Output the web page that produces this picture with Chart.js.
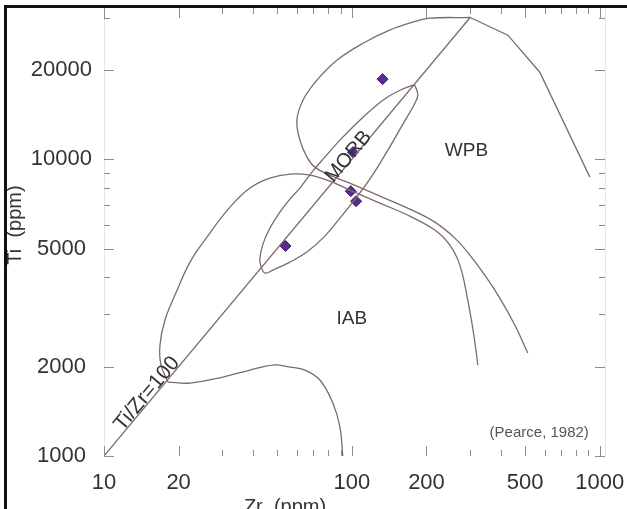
<!DOCTYPE html>
<html>
<head>
<meta charset="utf-8">
<script src="https://cdn.jsdelivr.net/npm/chart.js@4.4.0/dist/chart.umd.min.js"></script>
<style>
  html, body { margin: 0; padding: 0; background: #fff; }
  #wrap { width: 627px; height: 509px; }
</style>
</head>
<body>
<div id="wrap"><canvas id="chart" width="627" height="509"></canvas></div>
<script>
// axis ticks
const xTicks = [10, 20, 100, 200, 500, 1000];
const yTicks = [1000, 2000, 5000, 10000, 20000];

// samples (Zr ppm, Ti ppm)
const sampleZr = [133, 101, 99, 104, 54];
const sampleTi = [18600, 10560, 7800, 7220, 5100];

// Ti/Zr = 100 line
const ratioZr = [10, 300];
const ratioTi = [1000, 30000];

// WPB field: straight right edge up to the apex
const wpbEdgeZr = [912, 573, 426, 300];
const wpbEdgeTi = [8700, 19630, 26160, 30000];

// WPB field: from apex round the left side, then down to the right
const wpbZr = [300, 206, 176, 142, 111, 87, 72.3, 63.5, 60.0, 61.7, 65.9, 70.9, 81.5, 98.1, 129.7, 171.3, 216.1, 260.3, 299.1, 343.8, 395.3, 454.3, 512.5];
const wpbTi = [30000, 29840, 28930, 27190, 24580, 21540, 18450, 15800, 13530, 11590, 10160, 9400, 8835, 8300, 7507, 6785, 6135, 5420, 4752, 4069, 3404, 2761, 2222];

// IAB field, upper boundary
const iabTopZr = [18.12, 16.98, 16.82, 17.62, 19.34, 22.23, 26.02, 32.22, 38.79, 46.71, 56.23, 67.7, 81.5, 98.1, 129.7, 171.3, 216.1, 248.5, 272.6, 293.5, 310.4, 322.2];
const iabTopTi = [1775, 2025, 2364, 2871, 3484, 4500, 5463, 6891, 7990, 8630, 8900, 8835, 8430, 7865, 7110, 6428, 5768, 5133, 4397, 3352, 2556, 2025];

// IAB field, lower boundary
const iabBaseZr = [18.12, 22.23, 30.19, 38.79, 48.03, 56.23, 64.65, 74.3, 83.8, 89.5, 91.9];
const iabBaseTi = [1775, 1761, 1845, 1948, 2025, 1994, 1948, 1803, 1508, 1252, 1000];

// MORB field (closed outline)
const morbZr = [179.5, 171.3, 156.2, 133.4, 107.7, 89.5, 77.8, 69.0, 61.7, 56.23, 51.25, 46.71, 43.76, 42.56, 42.96, 44.6, 48.03, 56.23, 65.86, 77.8, 89.5, 103.8, 120.4, 139.7, 160.6, 177.8, 184.6, 179.5];
const morbTi = [17750, 17610, 17070, 15800, 13530, 11590, 10160, 9042, 7990, 7333, 6630, 5857, 5174, 4642, 4363, 4133, 4229, 4500, 4863, 5505, 6329, 7390, 8768, 10720, 13120, 15200, 16430, 17750];

// text labels
const fieldNames = ['WPB', 'IAB'];
const fieldZr = [290, 100];
const fieldTi = [10700, 2900];
const sourceNote = '(Pearce, 1982)';
const sourceZr = 570;
const sourceTi = 1200;

const lineColor = '#7b6c68';
const textColor = '#333';
const fontFamily = '"Liberation Sans", Arial, sans-serif';

function toPoints(xs, ys) {
  return xs.map((v, i) => ({ x: v, y: ys[i] }));
}

function minorList(from, to) {
  const out = [];
  for (let d = from; d < to; d *= 10) {
    for (let k = 1; k < 10; k++) out.push(d * k);
  }
  out.push(to);
  return out;
}
const xMinor = minorList(10, 1000);
const yMinor = minorList(1000, 10000).concat([20000, 30000]);

const lineStyle = { showLine: true, pointRadius: 0, borderColor: lineColor, borderWidth: 1.3, fill: false };

const decor = {
  id: 'decor',
  afterDatasetsDraw(chart) {
    const { ctx, chartArea: a, scales: { x, y } } = chart;
    ctx.save();

    // faint axis lines
    ctx.strokeStyle = '#e6e6e6';
    ctx.lineWidth = 1;
    ctx.beginPath();
    ctx.moveTo(a.left + 0.5, a.top); ctx.lineTo(a.left + 0.5, a.bottom);
    ctx.moveTo(a.right + 0.5, a.top); ctx.lineTo(a.right + 0.5, a.bottom);
    ctx.stroke();

    // inward ticks on all four sides
    ctx.strokeStyle = '#8c8c8c';
    ctx.beginPath();
    xMinor.forEach(v => {
      const px = Math.round(x.getPixelForValue(v)) + 0.5;
      const len = xTicks.includes(v) ? 10 : 6;
      ctx.moveTo(px, a.bottom); ctx.lineTo(px, a.bottom - len);
      ctx.moveTo(px, a.top); ctx.lineTo(px, a.top + len);
    });
    yMinor.forEach(v => {
      const py = Math.round(y.getPixelForValue(v)) + 0.5;
      const len = yTicks.includes(v) ? 10 : 6;
      ctx.moveTo(a.left, py); ctx.lineTo(a.left + len, py);
      ctx.moveTo(a.right, py); ctx.lineTo(a.right - len, py);
    });
    ctx.stroke();

    // field labels
    ctx.fillStyle = textColor;
    ctx.textAlign = 'center';
    ctx.textBaseline = 'middle';
    ctx.font = '19px ' + fontFamily;
    fieldNames.forEach((name, i) => {
      ctx.fillText(name, x.getPixelForValue(fieldZr[i]), y.getPixelForValue(fieldTi[i]));
    });

    ctx.font = '15px ' + fontFamily;
    ctx.fillStyle = '#555';
    ctx.fillText(sourceNote, x.getPixelForValue(sourceZr), y.getPixelForValue(sourceTi));

    // labels that follow the Ti/Zr = 100 line
    const ang = Math.atan2(
      y.getPixelForValue(ratioTi[1]) - y.getPixelForValue(ratioTi[0]),
      x.getPixelForValue(ratioZr[1]) - x.getPixelForValue(ratioZr[0])
    );
    ctx.fillStyle = textColor;
    [['MORB', 97, 10200, 20], ['Ti/Zr=100', 14.9, 1620, 21]].forEach(([t, zr, ti, size]) => {
      ctx.save();
      ctx.translate(x.getPixelForValue(zr), y.getPixelForValue(ti));
      ctx.rotate(ang);
      ctx.font = size + 'px ' + fontFamily;
      ctx.fillText(t, 0, 0);
      ctx.restore();
    });

    // axis titles
    ctx.font = '20px ' + fontFamily;
    ctx.textBaseline = 'alphabetic';
    ctx.fillText('Zr  (ppm)', a.left + 181, 513);
    ctx.save();
    ctx.translate(15, (a.top + a.bottom) / 2 - 7);
    ctx.rotate(-Math.PI / 2);
    ctx.textBaseline = 'middle';
    ctx.fillText('Ti  (ppm)', 0, 0);
    ctx.restore();

    // scanned page frame
    ctx.fillStyle = '#111';
    ctx.fillRect(4, 5, 3, 504);
    ctx.fillRect(4, 5, 623, 3);

    ctx.restore();
  }
};

new Chart(document.getElementById('chart'), {
  type: 'scatter',
  data: {
    datasets: [
      { ...lineStyle, data: toPoints(ratioZr, ratioTi), tension: 0 },
      { ...lineStyle, data: toPoints(wpbEdgeZr, wpbEdgeTi), tension: 0 },
      { ...lineStyle, data: toPoints(wpbZr, wpbTi), tension: 0.4 },
      { ...lineStyle, data: toPoints(iabTopZr, iabTopTi), tension: 0.4 },
      { ...lineStyle, data: toPoints(iabBaseZr, iabBaseTi), tension: 0.4 },
      { ...lineStyle, data: toPoints(morbZr, morbTi), tension: 0.4 },
      {
        data: toPoints(sampleZr, sampleTi),
        showLine: false,
        pointStyle: 'rectRot',
        pointRadius: 5.5,
        backgroundColor: '#5c2b8e',
        borderColor: '#3a1a5c',
        borderWidth: 1
      }
    ]
  },
  options: {
    responsive: false,
    animation: false,
    layout: { padding: { left: 0, right: 22, top: 8, bottom: 0 } },
    plugins: { legend: { display: false }, tooltip: { enabled: false } },
    scales: {
      x: {
        type: 'logarithmic',
        min: 10,
        max: 1050,
        grid: { display: false, drawTicks: false },
        border: { display: false },
        afterBuildTicks: s => { s.ticks = xTicks.map(v => ({ value: v })); },
        afterFit: s => {
          s.height = 53;
          s.paddingLeft = 0;
          s.paddingRight = 0;
        },
        ticks: {
          autoSkip: false,
          maxRotation: 0,
          padding: 14,
          color: textColor,
          font: { family: fontFamily, size: 22 },
          callback: v => String(v)
        }
      },
      y: {
        type: 'logarithmic',
        min: 1000,
        max: 32300,
        grid: { display: false, drawTicks: false },
        border: { display: false },
        afterBuildTicks: s => { s.ticks = yTicks.map(v => ({ value: v })); },
        afterFit: s => {
          s.width = 104;
          s.paddingTop = 0;
          s.paddingBottom = 0;
        },
        ticks: {
          autoSkip: false,
          padding: 12,
          crossAlign: 'center',
          color: textColor,
          font: { family: fontFamily, size: 22 },
          callback: v => String(v)
        }
      }
    }
  },
  plugins: [decor]
});
</script>
</body>
</html>
